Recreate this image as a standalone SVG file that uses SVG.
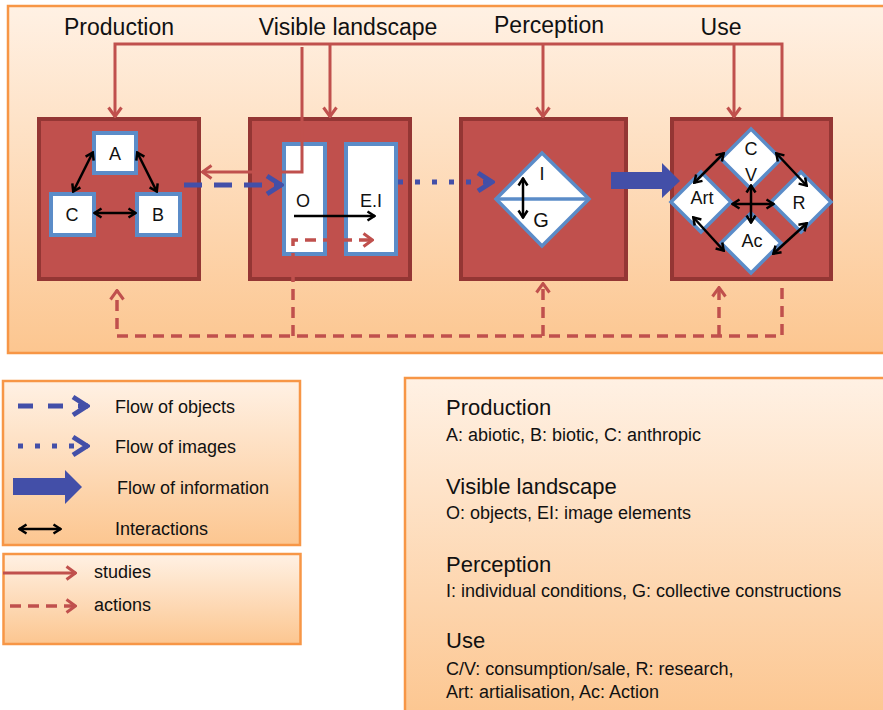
<svg xmlns="http://www.w3.org/2000/svg" width="883" height="710" viewBox="0 0 883 710">
<style>
text{font-family:"Liberation Sans",Arial,sans-serif;fill:#111}
.panel{stroke:#f79646;stroke-width:2.5;fill:url(#bg)}
.box{fill:#c0504d;stroke:#943634;stroke-width:4}
.wbox{fill:#fff;stroke:#5b8cc8;stroke-width:4}
.red{fill:none;stroke:#c0504d;stroke-width:3}
.redd{fill:none;stroke:#c0504d;stroke-width:3.5;stroke-dasharray:11 7}
.blk{fill:none;stroke:#000;stroke-width:2.5;marker-start:url(#ka);marker-end:url(#ka)}
.blk1{fill:none;stroke:#000;stroke-width:2.5;marker-end:url(#ka)}
.h{font-size:23px;text-anchor:middle}
.lg{font-size:18px}
.ih{font-size:22px}
.is{font-size:18px}
.nl{font-size:18px;text-anchor:middle}
</style>
<defs>
<linearGradient id="bg" x1="0" y1="0" x2="0" y2="1">
<stop offset="0" stop-color="#fff1e4"/>
<stop offset="1" stop-color="#fcc690"/>
</linearGradient>
<marker id="ra" viewBox="0 0 12 16" refX="11" refY="8" markerWidth="12" markerHeight="16" markerUnits="userSpaceOnUse" orient="auto">
<path d="M1.5,1.5 L10.5,8 L1.5,14.5" fill="none" stroke="#c0504d" stroke-width="3" stroke-dasharray="none"/>
</marker>
<marker id="ba" viewBox="0 0 20 24" refX="18" refY="12" markerWidth="20" markerHeight="24" markerUnits="userSpaceOnUse" orient="auto">
<path d="M3,3 L17,12 L3,21" fill="none" stroke="#434fa8" stroke-width="5" stroke-dasharray="none"/>
</marker>
<marker id="ka" viewBox="0 0 10 12" refX="9" refY="6" markerWidth="10" markerHeight="12" markerUnits="userSpaceOnUse" orient="auto-start-reverse">
<path d="M1.5,1.5 L8.5,6 L1.5,10.5" fill="none" stroke="#000" stroke-width="2.5"/>
</marker>
</defs>

<rect x="0" y="0" width="883" height="710" fill="#fff"/>
<rect class="panel" x="8" y="6" width="885" height="347"/>

<g id="header-labels">
<text class="h" x="119" y="35">Production</text>
<text class="h" x="348" y="35">Visible landscape</text>
<text class="h" x="549" y="33">Perception</text>
<text class="h" x="721" y="35">Use</text>
</g>

<g id="production">
<rect class="box" x="39" y="119" width="160" height="160"/>
<g id="node-A"><rect class="wbox" x="94" y="133" width="42" height="40"/><text class="nl" x="115" y="160">A</text></g>
<g id="node-C"><rect class="wbox" x="51" y="194" width="43" height="41"/><text class="nl" x="72" y="221">C</text></g>
<g id="node-B"><rect class="wbox" x="137" y="194" width="43" height="41"/><text class="nl" x="158" y="221">B</text></g>
</g>

<g id="visible-landscape">
<rect class="box" x="250" y="119" width="160" height="160"/>
<g id="node-O"><rect class="wbox" x="284" y="144" width="41" height="110"/><text class="nl" x="303" y="207">O</text></g>
<g id="node-EI"><rect class="wbox" x="346" y="144" width="50" height="110"/><text class="nl" x="371" y="207">E.I</text></g>
</g>

<g id="perception">
<rect class="box" x="461" y="119" width="165" height="160"/>
<g id="node-IG">
<polygon points="542,153 589,199 542,246 496,199" fill="#fff" stroke="#5b8cc8" stroke-width="3.5"/>
<line x1="496" y1="199" x2="589" y2="199" stroke="#5b8cc8" stroke-width="3.5"/>
<text class="nl" x="542" y="180">I</text>
<text class="nl" x="541" y="227" style="font-size:20px">G</text>
</g>
</g>

<g id="use">
<rect class="box" x="672" y="119" width="159" height="160"/>
<g id="node-CV"><polygon points="751,129 781,159 751,189 721,159" fill="#fff" stroke="#5b8cc8" stroke-width="3.5"/><text class="nl" x="751" y="155">C</text><text class="nl" x="751" y="181">V</text></g>
<g id="node-Art"><polygon points="701,172 731,202 701,232 671,202" fill="#fff" stroke="#5b8cc8" stroke-width="3.5"/><text class="nl" x="702" y="204">Art</text></g>
<g id="node-R"><polygon points="801,172 831,202 801,232 771,202" fill="#fff" stroke="#5b8cc8" stroke-width="3.5"/><text class="nl" x="799" y="209">R</text></g>
<g id="node-Ac"><polygon points="751,213 781,243 751,273 721,243" fill="#fff" stroke="#5b8cc8" stroke-width="3.5"/><text class="nl" x="752" y="247">Ac</text></g>
</g>

<g id="connectors">
<polyline class="red" points="782,117 782,44 115,44 115,117" marker-end="url(#ra)"/>
<line class="red" x1="330" y1="44" x2="330" y2="117" marker-end="url(#ra)"/>
<line class="red" x1="543" y1="44" x2="543" y2="117" marker-end="url(#ra)"/>
<line class="red" x1="734" y1="44" x2="734" y2="117" marker-end="url(#ra)"/>
<polyline class="red" points="302,47 302,172 202,172" marker-end="url(#ra)"/>
<polyline class="redd" points="782,288 782,336 117,336 117,290" marker-end="url(#ra)"/>
<line class="redd" x1="543" y1="336" x2="543" y2="283" marker-end="url(#ra)"/>
<line class="redd" x1="719" y1="336" x2="719" y2="287" marker-end="url(#ra)"/>
<polyline class="redd" points="293,336 293,240 373,240" marker-end="url(#ra)"/>
<line x1="184" y1="185" x2="282" y2="185" stroke="#434fa8" stroke-width="5" stroke-dasharray="18 12" marker-end="url(#ba)"/>
<line x1="398" y1="182" x2="493" y2="182" stroke="#434fa8" stroke-width="5" stroke-dasharray="5 12" marker-end="url(#ba)"/>
<polygon points="611,172 662,172 662,163 680,181 662,198 662,189 611,189" fill="#434fa8"/>
<line class="blk" x1="93" y1="152" x2="73" y2="192"/>
<line class="blk" x1="137" y1="152" x2="157" y2="192"/>
<line class="blk" x1="94" y1="213" x2="136" y2="213"/>
<line class="blk1" x1="294" y1="216" x2="375" y2="216"/>
<line class="blk" x1="523" y1="178" x2="523" y2="218"/>
<line class="blk" x1="694" y1="183" x2="724" y2="153"/>
<line class="blk" x1="776" y1="153" x2="807" y2="186"/>
<line class="blk" x1="693" y1="217" x2="724" y2="251"/>
<line class="blk" x1="773" y1="254" x2="807" y2="223"/>
<line class="blk" x1="732" y1="204" x2="774" y2="204"/>
<line class="blk" x1="751" y1="185" x2="751" y2="223"/>
</g>

<g id="legend">
<rect class="panel" x="3" y="381" width="297" height="164"/>
<line x1="18" y1="406" x2="88" y2="406" stroke="#434fa8" stroke-width="5" stroke-dasharray="15 15" marker-end="url(#ba)"/>
<text class="lg" x="115" y="413">Flow of objects</text>
<line x1="18" y1="446" x2="88" y2="446" stroke="#434fa8" stroke-width="5" stroke-dasharray="5 12" marker-end="url(#ba)"/>
<text class="lg" x="115" y="453">Flow of images</text>
<polygon points="13,478 65,478 65,470 82,487 65,504 65,495 13,495" fill="#434fa8"/>
<text class="lg" x="117" y="494">Flow of information</text>
<line class="blk" x1="19" y1="529" x2="61" y2="529"/>
<text class="lg" x="115" y="535">Interactions</text>
<rect class="panel" x="3.5" y="554" width="297" height="90"/>
<line class="red" x1="3" y1="573" x2="76" y2="573" marker-end="url(#ra)"/>
<text class="lg" x="94" y="578">studies</text>
<line class="redd" x1="10" y1="606" x2="76" y2="606" marker-end="url(#ra)"/>
<text class="lg" x="94" y="611">actions</text>
</g>

<g id="info">
<rect class="panel" x="405" y="378" width="490" height="340"/>
<text class="ih" x="446" y="415">Production</text>
<text class="is" x="446" y="441">A: abiotic, B: biotic, C: anthropic</text>
<text class="ih" x="446" y="494">Visible landscape</text>
<text class="is" x="446" y="519">O: objects, EI: image elements</text>
<text class="ih" x="446" y="572">Perception</text>
<text class="is" x="446" y="597">I: individual conditions, G: collective constructions</text>
<text class="ih" x="446" y="648">Use</text>
<text class="is" x="446" y="675">C/V: consumption/sale, R: research,</text>
<text class="is" x="446" y="698">Art: artialisation, Ac: Action</text>
</g>
</svg>
